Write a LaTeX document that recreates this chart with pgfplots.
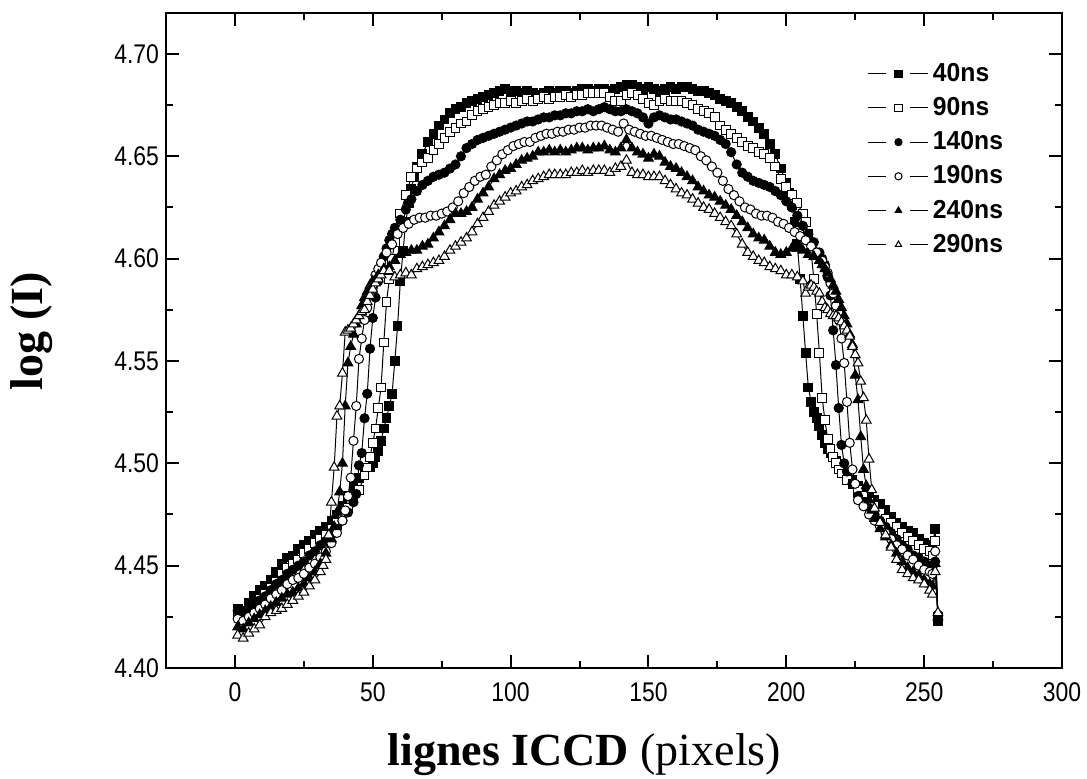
\documentclass[border=0pt]{standalone}
\usepackage{fontspec}
\setmainfont{Liberation Serif}
\newfontfamily\ticksf{Liberation Sans}[FakeStretch=0.85]
\newfontfamily\legf{Liberation Sans}[FakeStretch=0.95]
\usepackage{pgfplots}
\pgfplotsset{compat=1.18}

\pgfplotsset{
  base/.style={black, line width=0.5pt, mark options={solid, line width=0.6pt}},
  s40/.style={base, mark=square*, mark size=2.2pt, mark options={fill=black}},
  s90/.style={base, mark=square*, mark size=2.2pt, mark options={fill=white}},
  s140/.style={base, mark=*, mark size=2.3pt, mark options={fill=black}},
  s190/.style={base, mark=*, mark size=2.3pt, mark options={fill=white}},
  s240/.style={base, mark=triangle*, mark size=2.8pt, mark options={fill=black}},
  s290/.style={base, mark=triangle*, mark size=2.8pt, mark options={fill=white}},
}

\begin{document}
\begin{tikzpicture}
\begin{axis}[
  scale only axis, width=448pt, height=327.5pt,
  xmin=-25, xmax=300, ymin=4.40, ymax=4.72,
  xtick={0,50,...,300}, ytick={4.40,4.45,4.50,4.55,4.60,4.65,4.70},
  minor x tick num=1, minor y tick num=1,
  tick align=inside,
  major tick length=6.5pt, minor tick length=3.5pt,
  every tick/.style={black, line width=1pt},
  axis line style={line width=1.2pt},
  /pgf/number format/assume math mode=true,
  tick label style={font=\ticksf\fontsize{13.5}{15}\selectfont},
  yticklabel style={/pgf/number format/.cd, fixed, fixed zerofill, precision=2},
  xticklabel style={yshift=-4pt},
  xlabel={\textbf{lignes ICCD} (pixels)},
  ylabel={\textbf{log (I)}},
  label style={font=\fontsize{23}{26}\selectfont},
  xlabel style={at={(axis description cs:0.467,-0.1328)}, anchor=center},
  ylabel style={at={(axis description cs:-0.1496,0.514)}, anchor=center},
  legend style={at={(axis description cs:0.783,0.93)}, anchor=north west,
    draw=none, fill=none, inner sep=0pt, row sep=2.5pt,
    font=\legf\bfseries\fontsize{13}{15}\selectfont,
    /tikz/every even column/.append style={column sep=3pt}},
  legend cell align=left,
  legend image code/.code={
    \draw[#1, mark=none] (0pt,0pt) -- (9pt,0pt);
    \draw[#1, mark=none] (21pt,0pt) -- (30pt,0pt);
    \draw[#1, mark size=1.8pt] plot coordinates {(15pt,0pt)};
  },
]

\addplot[s40] coordinates {
(1,4.429)(3,4.428)(5,4.432)(7,4.435)(9,4.438)(11,4.440)(13,4.443)(15,4.447)(17,4.451)(19,4.454)(21,4.455)(23,4.458)(25,4.460)(27,4.462)(29,4.465)(31,4.467)(33,4.469)(35,4.472)(37,4.475)(39,4.479)(41,4.484)(43,4.489)(45,4.493)(47,4.496)(49,4.498)(50,4.500)(51,4.503)(52,4.506)(53,4.511)(54,4.517)(55,4.522)(56,4.528)(57,4.534)(58,4.550)(59,4.567)(60,4.589)(61,4.604)(62,4.618)(63,4.627)(64,4.634)(65,4.640)(66,4.645)(68,4.651)(70,4.657)(72,4.661)(74,4.665)(76,4.668)(78,4.671)(80,4.673)(82,4.674)(84,4.676)(86,4.677)(88,4.678)(90,4.679)(92,4.680)(94,4.681)(96,4.682)(98,4.683)(100,4.682)(102,4.682)(104,4.681)(106,4.682)(108,4.681)(110,4.680)(112,4.681)(114,4.682)(116,4.681)(118,4.682)(120,4.682)(122,4.681)(124,4.682)(126,4.683)(128,4.683)(130,4.682)(132,4.683)(134,4.683)(136,4.682)(138,4.683)(140,4.684)(142,4.685)(144,4.685)(146,4.684)(148,4.683)(150,4.684)(152,4.683)(154,4.682)(156,4.683)(158,4.684)(160,4.683)(162,4.684)(164,4.684)(166,4.683)(168,4.682)(170,4.682)(172,4.681)(174,4.680)(176,4.678)(178,4.677)(180,4.676)(182,4.674)(184,4.672)(186,4.669)(188,4.667)(190,4.664)(192,4.661)(194,4.656)(196,4.651)(198,4.644)(200,4.637)(201,4.632)(202,4.626)(203,4.618)(204,4.607)(205,4.590)(206,4.572)(207,4.554)(208,4.537)(209,4.530)(210,4.525)(211,4.522)(212,4.518)(213,4.514)(214,4.510)(215,4.507)(216,4.505)(218,4.501)(220,4.497)(222,4.495)(224,4.492)(226,4.489)(228,4.487)(230,4.484)(232,4.482)(234,4.480)(236,4.477)(238,4.474)(240,4.471)(242,4.469)(244,4.467)(246,4.466)(248,4.463)(250,4.461)(252,4.460)(253,4.460)(254,4.468)(255,4.423)
};
\addlegendentry{40ns}

\addplot[s90] coordinates {
(1,4.427)(3,4.426)(5,4.429)(7,4.431)(9,4.434)(11,4.436)(13,4.439)(15,4.442)(17,4.446)(19,4.449)(21,4.451)(23,4.453)(25,4.456)(27,4.458)(29,4.461)(31,4.463)(33,4.465)(35,4.468)(37,4.471)(39,4.474)(41,4.478)(43,4.482)(45,4.487)(47,4.494)(48,4.498)(49,4.503)(50,4.510)(51,4.517)(52,4.527)(53,4.537)(54,4.559)(55,4.579)(56,4.590)(57,4.600)(58,4.608)(59,4.615)(60,4.622)(62,4.631)(64,4.640)(66,4.644)(68,4.647)(70,4.649)(72,4.653)(74,4.656)(76,4.659)(78,4.662)(80,4.664)(82,4.666)(84,4.667)(86,4.670)(88,4.672)(90,4.673)(92,4.674)(94,4.675)(96,4.676)(98,4.676)(100,4.677)(102,4.676)(104,4.677)(106,4.678)(108,4.677)(110,4.678)(112,4.679)(114,4.678)(116,4.679)(118,4.679)(120,4.680)(122,4.679)(124,4.680)(126,4.680)(128,4.681)(130,4.681)(132,4.681)(134,4.681)(136,4.679)(138,4.677)(140,4.677)(142,4.680)(144,4.681)(146,4.680)(148,4.678)(150,4.676)(152,4.675)(154,4.677)(156,4.678)(158,4.677)(160,4.677)(162,4.677)(164,4.676)(166,4.675)(168,4.673)(170,4.672)(172,4.671)(174,4.669)(176,4.665)(178,4.663)(180,4.661)(182,4.659)(184,4.657)(186,4.655)(188,4.654)(190,4.652)(192,4.651)(194,4.649)(196,4.645)(198,4.639)(200,4.635)(202,4.631)(204,4.627)(206,4.622)(207,4.618)(208,4.612)(209,4.603)(210,4.590)(211,4.573)(212,4.554)(213,4.532)(214,4.521)(215,4.512)(216,4.507)(217,4.503)(218,4.500)(219,4.497)(220,4.495)(222,4.492)(224,4.490)(226,4.487)(228,4.484)(230,4.481)(232,4.479)(234,4.476)(236,4.473)(238,4.471)(240,4.469)(242,4.466)(244,4.464)(246,4.462)(248,4.460)(250,4.458)(252,4.457)(253,4.455)(254,4.462)(255,4.425)
};
\addlegendentry{90ns}

\addplot[s140] coordinates {
(1,4.428)(3,4.427)(5,4.429)(7,4.431)(9,4.433)(11,4.435)(13,4.438)(15,4.441)(17,4.443)(19,4.446)(21,4.448)(23,4.450)(25,4.452)(27,4.455)(29,4.457)(31,4.460)(33,4.462)(35,4.465)(37,4.468)(39,4.472)(41,4.476)(43,4.481)(44,4.485)(45,4.499)(46,4.505)(47,4.522)(48,4.534)(49,4.556)(50,4.571)(51,4.581)(52,4.589)(53,4.596)(54,4.601)(55,4.605)(56,4.609)(57,4.612)(58,4.615)(60,4.619)(62,4.624)(64,4.629)(66,4.633)(68,4.636)(70,4.638)(72,4.640)(74,4.641)(76,4.642)(78,4.644)(80,4.646)(82,4.650)(84,4.654)(86,4.656)(88,4.658)(90,4.659)(92,4.660)(94,4.661)(96,4.662)(98,4.663)(100,4.664)(102,4.665)(104,4.666)(106,4.667)(108,4.667)(110,4.668)(112,4.669)(114,4.669)(116,4.670)(118,4.670)(120,4.671)(122,4.671)(124,4.672)(126,4.672)(128,4.673)(130,4.672)(132,4.673)(134,4.674)(136,4.673)(138,4.672)(140,4.672)(142,4.673)(144,4.672)(146,4.671)(148,4.669)(150,4.666)(152,4.669)(154,4.670)(156,4.669)(158,4.668)(160,4.668)(162,4.667)(164,4.666)(166,4.665)(168,4.663)(170,4.662)(172,4.661)(174,4.660)(176,4.658)(178,4.656)(180,4.652)(182,4.646)(184,4.642)(186,4.640)(188,4.638)(190,4.637)(192,4.636)(194,4.635)(196,4.633)(198,4.631)(200,4.628)(202,4.625)(204,4.621)(206,4.616)(208,4.612)(210,4.608)(212,4.603)(213,4.600)(214,4.597)(215,4.591)(216,4.582)(217,4.565)(218,4.548)(219,4.527)(220,4.509)(221,4.500)(222,4.496)(224,4.490)(226,4.484)(228,4.481)(230,4.478)(232,4.475)(234,4.472)(236,4.469)(238,4.466)(240,4.463)(242,4.460)(244,4.458)(246,4.455)(248,4.454)(250,4.452)(252,4.450)(253,4.449)(254,4.452)(255,4.423)
};
\addlegendentry{140ns}

\addplot[s190] coordinates {
(1,4.424)(3,4.423)(5,4.425)(7,4.427)(9,4.429)(11,4.431)(13,4.434)(15,4.436)(17,4.438)(19,4.441)(21,4.443)(23,4.444)(25,4.446)(27,4.449)(29,4.451)(31,4.454)(33,4.457)(35,4.461)(37,4.466)(39,4.472)(40,4.477)(41,4.484)(42,4.493)(43,4.511)(44,4.528)(45,4.551)(46,4.561)(47,4.570)(48,4.576)(49,4.582)(50,4.587)(51,4.592)(52,4.595)(53,4.598)(55,4.603)(57,4.607)(59,4.612)(61,4.615)(63,4.617)(65,4.619)(67,4.620)(69,4.620)(71,4.621)(73,4.621)(75,4.622)(77,4.623)(79,4.625)(81,4.628)(83,4.632)(85,4.635)(87,4.638)(89,4.640)(91,4.641)(93,4.645)(95,4.648)(97,4.651)(99,4.653)(101,4.655)(103,4.656)(105,4.657)(107,4.657)(109,4.659)(111,4.660)(113,4.661)(115,4.661)(117,4.662)(119,4.662)(121,4.663)(123,4.663)(125,4.664)(127,4.664)(129,4.665)(131,4.665)(133,4.665)(135,4.664)(137,4.663)(139,4.662)(141,4.666)(143,4.663)(145,4.662)(147,4.661)(149,4.660)(151,4.660)(153,4.659)(155,4.658)(157,4.657)(159,4.656)(161,4.656)(163,4.655)(165,4.654)(167,4.653)(169,4.650)(171,4.648)(173,4.645)(175,4.642)(177,4.638)(179,4.634)(181,4.631)(183,4.628)(185,4.625)(187,4.624)(189,4.622)(191,4.621)(193,4.621)(195,4.620)(197,4.618)(199,4.617)(201,4.615)(203,4.613)(205,4.611)(207,4.609)(209,4.606)(211,4.603)(213,4.599)(214,4.596)(215,4.593)(216,4.588)(217,4.583)(218,4.577)(219,4.570)(220,4.561)(221,4.549)(222,4.530)(223,4.510)(224,4.497)(225,4.490)(226,4.482)(228,4.479)(230,4.475)(232,4.472)(234,4.469)(236,4.466)(238,4.463)(240,4.460)(242,4.458)(244,4.455)(246,4.453)(248,4.450)(250,4.448)(252,4.447)(253,4.446)(254,4.457)(255,4.426)
};
\addlegendentry{190ns}

\addplot[s240] coordinates {
(1,4.420)(3,4.419)(5,4.422)(7,4.424)(9,4.426)(11,4.428)(13,4.430)(15,4.432)(17,4.434)(19,4.436)(21,4.437)(23,4.439)(25,4.441)(27,4.444)(29,4.447)(31,4.451)(33,4.456)(35,4.463)(36,4.469)(37,4.476)(38,4.486)(39,4.500)(40,4.528)(41,4.549)(42,4.557)(43,4.563)(44,4.568)(45,4.572)(46,4.577)(47,4.581)(48,4.584)(49,4.587)(50,4.589)(52,4.592)(54,4.595)(56,4.596)(58,4.599)(60,4.602)(62,4.603)(64,4.604)(66,4.604)(68,4.606)(70,4.607)(72,4.610)(74,4.613)(76,4.616)(78,4.619)(80,4.622)(82,4.622)(84,4.623)(86,4.625)(88,4.629)(90,4.632)(92,4.635)(94,4.639)(96,4.641)(98,4.643)(100,4.644)(102,4.646)(104,4.648)(106,4.649)(108,4.650)(110,4.652)(112,4.652)(114,4.653)(116,4.652)(118,4.653)(120,4.652)(122,4.653)(124,4.654)(126,4.654)(128,4.653)(130,4.654)(132,4.654)(134,4.655)(136,4.653)(138,4.652)(140,4.654)(142,4.658)(144,4.654)(146,4.652)(148,4.651)(150,4.649)(152,4.651)(154,4.650)(156,4.647)(158,4.645)(160,4.644)(162,4.642)(164,4.640)(166,4.638)(168,4.635)(170,4.633)(172,4.631)(174,4.630)(176,4.628)(178,4.626)(180,4.624)(182,4.621)(184,4.618)(186,4.615)(188,4.612)(190,4.610)(192,4.609)(194,4.606)(196,4.603)(198,4.602)(200,4.603)(202,4.605)(204,4.605)(206,4.604)(208,4.602)(210,4.601)(212,4.599)(213,4.597)(214,4.595)(215,4.593)(216,4.590)(217,4.587)(218,4.584)(219,4.580)(220,4.576)(221,4.572)(222,4.568)(223,4.563)(224,4.558)(225,4.543)(226,4.531)(227,4.513)(228,4.497)(229,4.489)(230,4.482)(231,4.477)(232,4.473)(234,4.468)(236,4.464)(238,4.460)(240,4.456)(242,4.452)(244,4.449)(246,4.447)(248,4.445)(250,4.443)(252,4.441)(253,4.440)(254,4.451)(255,4.425)
};
\addlegendentry{240ns}

\addplot[s290] coordinates {
(1,4.416)(3,4.4145)(5,4.417)(7,4.419)(9,4.421)(11,4.425)(13,4.427)(15,4.428)(17,4.429)(19,4.431)(21,4.433)(23,4.435)(25,4.437)(27,4.440)(29,4.443)(31,4.447)(32,4.450)(33,4.453)(34,4.465)(35,4.481)(36,4.498)(37,4.523)(38,4.528)(39,4.544)(40,4.564)(41,4.565)(42,4.566)(43,4.568)(44,4.570)(45,4.572)(46,4.574)(47,4.575)(48,4.579)(49,4.582)(50,4.585)(51,4.588)(52,4.590)(53,4.592)(54,4.594)(56,4.594)(58,4.591)(60,4.592)(62,4.593)(64,4.592)(66,4.595)(68,4.596)(70,4.597)(72,4.598)(74,4.599)(76,4.601)(78,4.604)(80,4.606)(82,4.608)(84,4.610)(86,4.613)(88,4.617)(90,4.620)(92,4.623)(94,4.626)(96,4.628)(98,4.630)(100,4.632)(102,4.633)(104,4.635)(106,4.636)(108,4.638)(110,4.639)(112,4.640)(114,4.641)(116,4.641)(118,4.641)(120,4.641)(122,4.642)(124,4.642)(126,4.643)(128,4.642)(130,4.643)(132,4.643)(134,4.643)(136,4.642)(138,4.644)(140,4.645)(142,4.648)(144,4.642)(146,4.641)(148,4.641)(150,4.640)(152,4.640)(154,4.640)(156,4.638)(158,4.636)(160,4.634)(162,4.632)(164,4.631)(166,4.629)(168,4.627)(170,4.625)(172,4.624)(174,4.622)(176,4.620)(178,4.618)(180,4.616)(182,4.612)(184,4.607)(186,4.603)(188,4.601)(190,4.599)(192,4.598)(194,4.596)(196,4.595)(198,4.594)(200,4.592)(202,4.592)(204,4.591)(206,4.589)(207,4.583)(208,4.586)(209,4.587)(210,4.586)(211,4.584)(212,4.583)(213,4.579)(214,4.576)(215,4.575)(216,4.573)(217,4.572)(218,4.572)(219,4.571)(220,4.569)(221,4.567)(222,4.565)(223,4.562)(224,4.557)(225,4.553)(226,4.549)(227,4.540)(228,4.532)(229,4.521)(230,4.502)(231,4.487)(232,4.478)(234,4.471)(236,4.465)(238,4.459)(240,4.453)(242,4.448)(244,4.446)(246,4.444)(248,4.443)(250,4.441)(252,4.438)(253,4.436)(254,4.447)(255,4.427)
};
\addlegendentry{290ns}

\end{axis}
\pgfresetboundingbox
\path[use as bounding box] (-83pt,-55pt) rectangle (460.5pt,334pt);
\end{tikzpicture}
\end{document}
